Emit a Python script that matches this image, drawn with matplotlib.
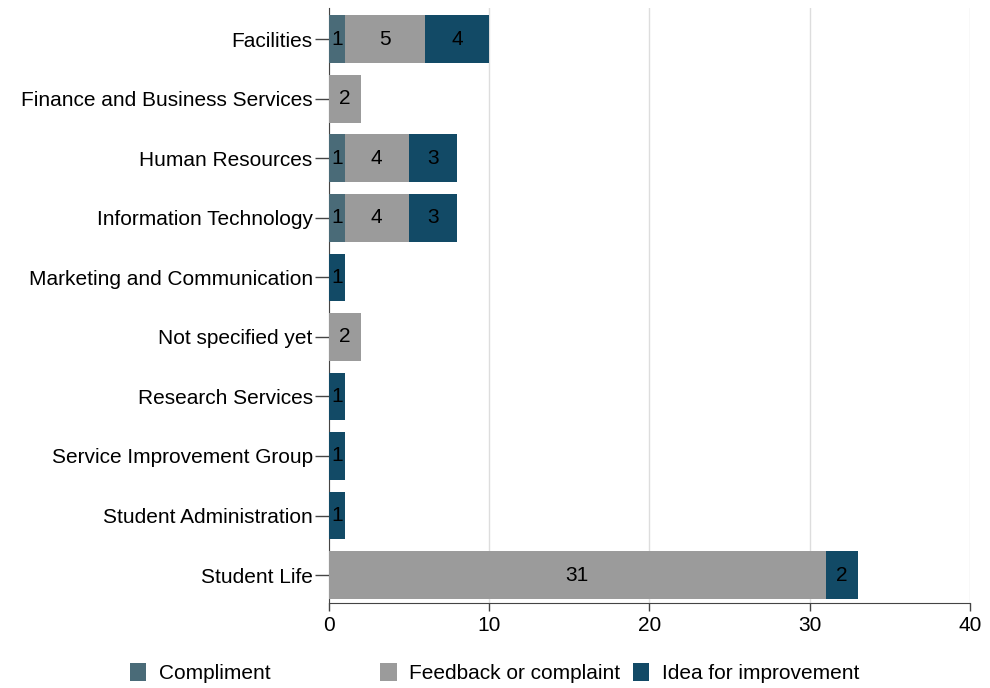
import numpy as np
import matplotlib.pyplot as plt

plt.rcParams['font.family'] = ['Liberation Sans', 'DejaVu Sans']

categories = ["Facilities", "Finance and Business Services", "Human Resources",
              "Information Technology", "Marketing and Communication", "Not specified yet",
              "Research Services", "Service Improvement Group", "Student Administration",
              "Student Life"]
compliment = [1, 0, 1, 1, 0, 0, 0, 0, 0, 0]
feedback = [5, 2, 4, 4, 0, 2, 0, 0, 0, 31]
idea = [4, 0, 3, 3, 1, 0, 1, 1, 1, 2]

series = [("Compliment", compliment, "#4a6b78"),
          ("Feedback or complaint", feedback, "#9b9b9b"),
          ("Idea for improvement", idea, "#124a66")]

fs = 15

fig = plt.figure(figsize=(9.9, 6.88), dpi=100)
ax = fig.add_axes([0.332, 0.1235, 0.648, 0.8645])

y = np.arange(len(categories))
left = np.zeros(len(categories))
handles = []
for name, vals, color in series:
    vals = np.array(vals, dtype=float)
    bars = ax.barh(y, vals, left=left, height=0.8, color=color, label=name, zorder=3)
    handles.append(bars)
    for yi, l, v in zip(y, left, vals):
        if v > 0:
            ax.text(l + v / 2, yi, f"{int(v)}", ha='center', va='center',
                    fontsize=fs, color='black', zorder=4)
    left += vals

ax.set_yticks(y)
ax.set_yticklabels(categories, fontsize=fs)
ax.set_ylim(9.47, -0.52)
ax.set_xlim(0, 40)
ax.set_xticks([0, 10, 20, 30, 40])
ax.tick_params(axis='x', labelsize=fs, length=6, color='#444444', width=1, pad=3)
ax.tick_params(axis='y', length=10, color='#444444', width=1, pad=1.5)
ax.xaxis.grid(True, color='#dddddd', linewidth=1, zorder=0)
for s in ['top', 'right']:
    ax.spines[s].set_visible(False)
for s in ['left', 'bottom']:
    ax.spines[s].set_color('#444444')

xs = [0.131, 0.384, 0.639]
for h, (name, _, _), x in zip(handles, series, xs):
    fig.legend([h], [name], loc='center left', bbox_to_anchor=(x, 0.022),
               frameon=False, fontsize=fs, handlelength=0.8, handleheight=0.95,
               handletextpad=0.6, borderaxespad=0, borderpad=0)

fig.savefig("out.png", dpi=100)
